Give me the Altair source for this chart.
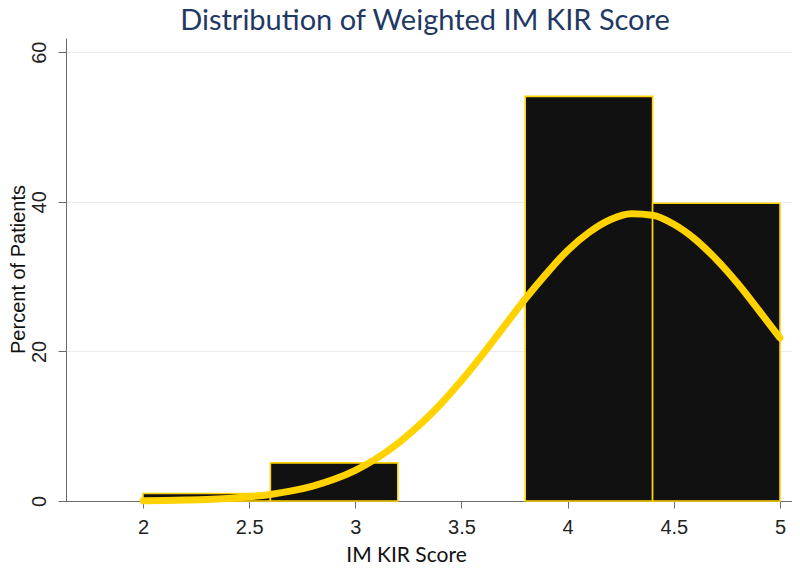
import altair as alt
import pandas as pd

# Histogram bins (IM KIR Score) and percent of patients
bin_start = [2.0, 2.6, 3.2, 3.8, 4.4]
bin_end = [2.6, 3.2, 3.8, 4.4, 5.0]
percent = [1.0, 5.1, 0.0, 54.1, 39.8]

# Overlaid normal curve
curve_x = [2.0, 2.1, 2.2, 2.3, 2.4, 2.5, 2.6, 2.7, 2.8, 2.9, 3.0, 3.1, 3.2, 3.3,
           3.4, 3.5, 3.6, 3.7, 3.8, 3.9, 4.0, 4.1, 4.2, 4.3, 4.4, 4.5, 4.6, 4.7,
           4.8, 4.9, 5.0]
curve_y = [0.04, 0.07, 0.13, 0.21, 0.35, 0.56, 0.88, 1.35, 2.0, 2.9, 4.1, 5.7,
           7.7, 10.1, 12.9, 16.1, 19.6, 23.3, 27.0, 30.4, 33.5, 35.9, 37.6, 38.4,
           38.2, 37.0, 35.0, 32.3, 29.1, 25.5, 21.8]

x_ticks = [2, 2.5, 3, 3.5, 4, 4.5, 5]
y_ticks = [0, 20, 40, 60]
title_text = ["Distribution of Weighted IM KIR Score"]

bars_df = pd.DataFrame({"start": bin_start, "end": bin_end, "pct": percent})
curve_df = pd.DataFrame({"x": curve_x, "y": curve_y})
title_df = pd.DataFrame({"t": title_text})

GOLD = "#FFD200"
AXIS_FONT = "Liberation Sans"

x_scale = alt.Scale(domain=[1.6374, 5.0565], nice=False, zero=False)
y_scale = alt.Scale(domain=[0, 61.9], nice=False, zero=True)

x_axis = alt.Axis(
    values=x_ticks, title="IM KIR Score", grid=False,
    labelFont=AXIS_FONT, labelFontSize=20, labelColor="#222222",
    labelPadding=9, tickSize=7, tickColor="#6b6b6b", domainColor="#6b6b6b",
    titleFont="Lato", titleFontSize=21, titleFontWeight="normal", titleColor="#111111",
    titleX=340, titleY=60, titleAlign="center", titleBaseline="alphabetic",
    labelFlush=False, format="~g",
)
y_axis = alt.Axis(
    values=y_ticks, title="Percent of Patients", grid=True, gridColor="#ebebeb",
    labelFont=AXIS_FONT, labelFontSize=20, labelColor="#222222",
    labelAngle=-90, labelAlign="center", labelBaseline="alphabetic",
    labelPadding=13, tickSize=8, tickColor="#6b6b6b", domainColor="#6b6b6b",
    titleFont=AXIS_FONT, titleFontSize=20, titleFontWeight="normal", titleColor="#111111",
    titleAngle=-90, titleAlign="center", titleBaseline="middle",
    titleX=-48, titleY=231, labelFlush=False,
)

bars = alt.Chart(bars_df).transform_filter("datum.pct > 0").mark_rect(
    color="#111111", stroke=GOLD, strokeWidth=1.6
).encode(
    x=alt.X("start:Q", scale=x_scale, axis=x_axis),
    x2="end:Q",
    y=alt.Y("pct:Q", scale=y_scale, axis=y_axis),
    y2=alt.datum(0),
)

curve = alt.Chart(curve_df).mark_line(
    color=GOLD, strokeWidth=7, strokeCap="round", strokeJoin="round",
    interpolate="monotone"
).encode(
    x=alt.X("x:Q", scale=x_scale),
    y=alt.Y("y:Q", scale=y_scale),
)

title = alt.Chart(title_df).mark_text(
    font="Lato", fontSize=29, color="#1F3864", align="center", baseline="alphabetic"
).encode(
    text="t:N",
    x=alt.value(359),
    y=alt.value(-8),
)

chart = alt.layer(bars, curve, title).properties(
    width=726, height=463,
    autosize=alt.AutoSizeParams(type="none"),
    padding={"left": 58, "top": 30, "right": 0, "bottom": 64},
).configure(background="white").configure_view(stroke=None)

chart.save("out.html", embed_options={"renderer": "svg", "actions": False})
